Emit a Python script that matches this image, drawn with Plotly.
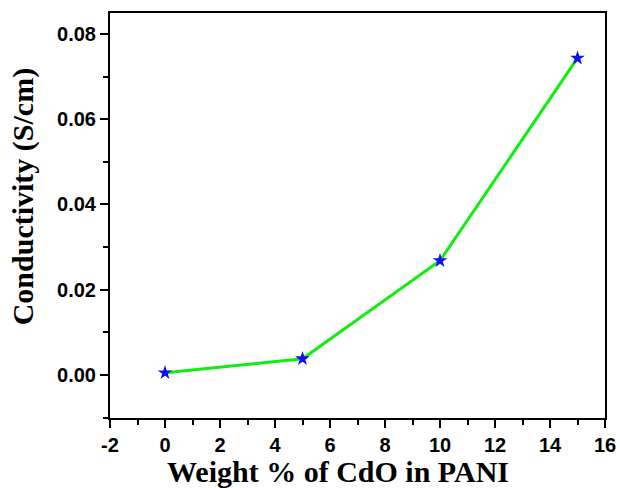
import plotly.graph_objects as go

# Conductivity of PANI/CdO composites
cdo_wt_pct = [0, 5, 10, 15]
conductivity = [0.0005, 0.0038, 0.0268, 0.0743]

# Axis tick labels
x_tick_vals = [-2, 0, 2, 4, 6, 8, 10, 12, 14, 16]
x_tick_text = ["-2", "0", "2", "4", "6", "8", "10", "12", "14", "16"]
y_tick_vals = [0.0, 0.02, 0.04, 0.06, 0.08]
y_tick_text = ["0.00", "0.02", "0.04", "0.06", "0.08"]

x_title = "Weight % of CdO in PANI"
y_title = "Conductivity (S/cm)"

fig = go.Figure()
fig.add_trace(go.Scatter(
    x=cdo_wt_pct, y=conductivity, mode="lines",
    line=dict(color="#10ee10", width=3), showlegend=False,
))
fig.add_trace(go.Scatter(
    x=cdo_wt_pct, y=conductivity, mode="markers",
    marker=dict(symbol="star", size=11, color="#1010f0"), showlegend=False,
))

axis_common = dict(
    showline=True, linecolor="black", linewidth=2, mirror=True,
    ticks="outside", ticklen=8, tickwidth=2, tickcolor="black",
    showgrid=False, zeroline=False, automargin=False,
    tickfont=dict(family="Liberation Sans", size=20, color="black", weight="bold"),
)
title_font = dict(family="Liberation Serif", size=30, color="black", weight="bold")

fig.update_xaxes(
    range=[-2, 16], tickvals=x_tick_vals, ticktext=x_tick_text,
    minor=dict(ticks="outside", ticklen=5, tickwidth=2, tickcolor="black", dtick=1, tick0=0),
    **axis_common,
)
fig.update_yaxes(
    range=[-0.0101, 0.0849], tickvals=y_tick_vals, ticktext=y_tick_text,
    minor=dict(ticks="outside", ticklen=5, tickwidth=2, tickcolor="black", dtick=0.01, tick0=0),
    **axis_common,
)

# Axis titles placed as annotations (slightly off-centre, as in the original figure)
fig.add_annotation(
    text=x_title, xref="paper", yref="paper", x=0.4596, y=-0.1333,
    xanchor="center", yanchor="middle", showarrow=False, font=title_font,
)
fig.add_annotation(
    text=y_title, xref="paper", yref="paper", x=-0.174, y=0.547,
    xanchor="center", yanchor="middle", textangle=-90, showarrow=False, font=title_font,
)

fig.update_layout(
    width=620, height=488,
    margin=dict(l=110, r=15, t=13, b=70),
    plot_bgcolor="white", paper_bgcolor="white",
)

fig.write_html("out.html")
